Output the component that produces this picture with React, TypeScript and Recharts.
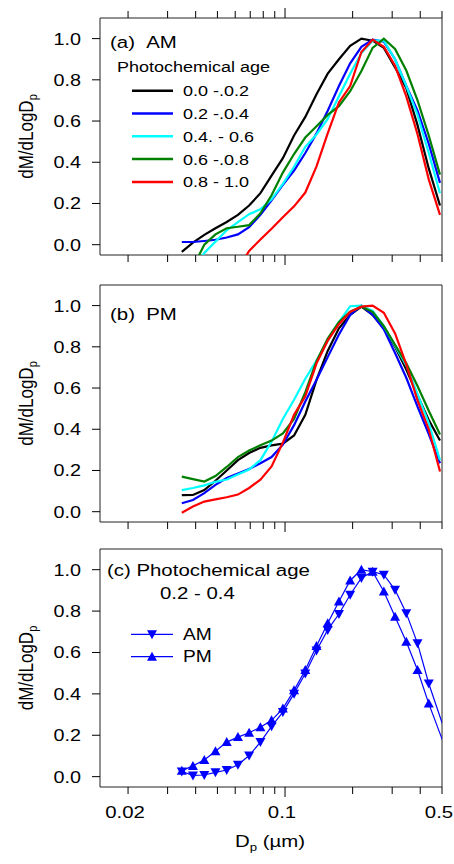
import { Legend, Line, LineChart, ReferenceArea, XAxis, YAxis } from "recharts";

// particle diameter bins (µm)
const DP = [
  0.0347, 0.0389, 0.0437, 0.049, 0.055, 0.0617, 0.0692, 0.0777, 0.0871, 0.0978, 0.1097, 0.1231,
  0.1381, 0.1549, 0.1738, 0.195, 0.2188, 0.2455, 0.2754, 0.309, 0.3467, 0.389, 0.4365, 0.4898,
];
const DP_C = [
  0.0347, 0.0389, 0.0437, 0.049, 0.055, 0.0617, 0.0692, 0.0777, 0.0871, 0.0978, 0.1097, 0.1231,
  0.1381, 0.1549, 0.1738, 0.195, 0.2188, 0.2455, 0.2754, 0.309, 0.3467, 0.389, 0.4365, 0.55,
];

// (a) AM
const AM_00_02 = [-0.035, 0.01, 0.048, 0.08, 0.11, 0.145, 0.19, 0.25, 0.335, 0.42, 0.53, 0.62, 0.73, 0.83, 0.9, 0.965, 1.0, 0.99, 0.955, 0.86, 0.76, 0.58, 0.37, 0.19];
const AM_02_04 = [0.013, 0.013, 0.018, 0.024, 0.035, 0.05, 0.085, 0.145, 0.215, 0.29, 0.36, 0.445, 0.54, 0.65, 0.77, 0.88, 0.96, 0.995, 0.985, 0.9, 0.77, 0.65, 0.49, 0.3];
const AM_04_06 = [-0.2, -0.12, -0.04, 0.015, 0.07, 0.11, 0.148, 0.172, 0.22, 0.295, 0.378, 0.475, 0.535, 0.61, 0.72, 0.83, 0.93, 0.99, 0.99, 0.9, 0.77, 0.63, 0.445, 0.25];
const AM_06_08 = [-0.25, -0.11, 0.0, 0.05, 0.08, 0.087, 0.095, 0.152, 0.24, 0.35, 0.44, 0.52, 0.575, 0.63, 0.672, 0.745, 0.843, 0.955, 1.0, 0.95, 0.845, 0.7, 0.53, 0.34];
const AM_08_10 = [-0.4, -0.35, -0.3, -0.25, -0.19, -0.12, -0.03, 0.025, 0.077, 0.133, 0.186, 0.253, 0.38, 0.54, 0.69, 0.77, 0.935, 0.995, 0.96, 0.868, 0.72, 0.536, 0.317, 0.145];

// (b) PM
const PM_00_02 = [0.08, 0.081, 0.105, 0.15, 0.2, 0.25, 0.285, 0.31, 0.322, 0.33, 0.37, 0.47, 0.64, 0.78, 0.89, 0.955, 0.995, 0.955, 0.89, 0.8, 0.69, 0.565, 0.445, 0.345];
const PM_02_04 = [0.041, 0.057, 0.09, 0.13, 0.163, 0.185, 0.207, 0.235, 0.265, 0.325, 0.42, 0.535, 0.64, 0.75, 0.86, 0.955, 1.0, 0.955, 0.885, 0.77, 0.65, 0.51, 0.377, 0.235];
const PM_04_06 = [0.105, 0.115, 0.128, 0.145, 0.156, 0.18, 0.205, 0.25, 0.34, 0.45, 0.543, 0.645, 0.733, 0.83, 0.92, 0.997, 1.0, 0.975, 0.9, 0.805, 0.71, 0.57, 0.43, 0.25];
const PM_06_08 = [0.17, 0.158, 0.146, 0.173, 0.217, 0.265, 0.297, 0.322, 0.345, 0.38, 0.45, 0.58, 0.73, 0.84, 0.92, 0.97, 0.995, 0.97, 0.9, 0.81, 0.72, 0.61, 0.49, 0.375];
const PM_08_10 = [-0.005, 0.025, 0.049, 0.06, 0.07, 0.083, 0.115, 0.155, 0.22, 0.335, 0.47, 0.56, 0.72, 0.83, 0.91, 0.97, 0.995, 1.0, 0.965, 0.865, 0.715, 0.54, 0.4, 0.195];

// (c) photochemical age 0.2 - 0.4
const C_AM = [0.025, 0.006, 0.008, 0.021, 0.032, 0.057, 0.102, 0.167, 0.243, 0.312, 0.401, 0.498, 0.61, 0.709, 0.786, 0.879, 0.96, 0.99, 0.976, 0.903, 0.79, 0.644, 0.45, 0.128];
const C_PM = [0.029, 0.052, 0.081, 0.123, 0.167, 0.191, 0.212, 0.239, 0.272, 0.329, 0.417, 0.515, 0.631, 0.741, 0.846, 0.948, 1.0, 0.99, 0.895, 0.773, 0.652, 0.515, 0.353, 0.063];

const AGE_LABELS = ["0.0 -.0.2", "0.2 -.0.4", "0.4. - 0.6", "0.6 -.0.8", "0.8 - 1.0"];
const AGE_COLORS = ["#000000", "#0000ff", "#00ffff", "#008000", "#ff0000"];
const AM_SERIES = [AM_00_02, AM_02_04, AM_04_06, AM_06_08, AM_08_10];
const PM_SERIES = [PM_00_02, PM_02_04, PM_04_06, PM_06_08, PM_08_10];

const X_TICKS = [0.02, 0.03, 0.04, 0.05, 0.06, 0.07, 0.08, 0.09, 0.1, 0.2, 0.3, 0.4, 0.5];
const X_LABELS = [0.02, 0.1, 0.5];
const Y_TICKS = [0, 0.2, 0.4, 0.6, 0.8, 1.0];
const X_DOMAIN = [0.015, 0.5];
const Y_DOMAIN = [-0.05, 1.1];

const W = 454;
const SX = 1.2;
const FONT = "'Liberation Sans', Arial, Helvetica, sans-serif";
const BLUE = "#0000ff";

const rowsAM = DP.map((x, i) => ({ x, s0: AM_00_02[i], s1: AM_02_04[i], s2: AM_04_06[i], s3: AM_06_08[i], s4: AM_08_10[i] }));
const rowsPM = DP.map((x, i) => ({ x, s0: PM_00_02[i], s1: PM_02_04[i], s2: PM_04_06[i], s3: PM_06_08[i], s4: PM_08_10[i] }));
const rowsC = DP_C.map((x, i) => ({ x, am: C_AM[i], pm: C_PM[i] }));

const bottomTick = (labeled: boolean) => (p: any) => {
  const v = p.payload.value;
  const len = v === 0.1 ? 10 : 7;
  return (
    <g>
      <line x1={p.x} x2={p.x} y1={p.y} y2={p.y + len} stroke="#000" />
      {labeled && X_LABELS.includes(v) && (
        <text transform={`translate(${p.x - 3},${p.y + 31}) scale(${SX},1)`} textAnchor="middle" fontSize={17} fill="#000">
          {String(v)}
        </text>
      )}
    </g>
  );
};

const topTick = (p: any) => {
  const len = p.payload.value === 0.1 ? 10 : 7;
  return <line x1={p.x} x2={p.x} y1={p.y} y2={p.y - len} stroke="#000" />;
};

const yTick = (p: any) => (
  <g>
    <line x1={p.x - 8} x2={p.x} y1={p.y} y2={p.y} stroke="#000" />
    <text transform={`translate(${p.x - 19},${p.y}) scale(${SX},1)`} textAnchor="end" dy="0.36em" fontSize={16.5} fill="#000">
      {Number(p.payload.value).toFixed(1)}
    </text>
  </g>
);

const tri = (down: boolean) => (p: any) => {
  const { cx, cy, index } = p;
  if (cx == null || cy == null) return <g key={index} />;
  const d = down
    ? `M${cx - 5},${cy - 4}L${cx + 5},${cy - 4}L${cx},${cy + 5}Z`
    : `M${cx - 5},${cy + 4}L${cx + 5},${cy + 4}L${cx},${cy - 5}Z`;
  return <path key={index} d={d} fill={BLUE} />;
};

const YLabel = ({ cy }: { cy: number }) => (
  <text transform={`translate(33,${cy}) scale(${SX},1) rotate(-90)`} textAnchor="middle" fontSize={17} fill="#000">
    dM/dLogD
    <tspan fontSize={11} dy={3}>p</tspan>
  </text>
);

const T = ({ x, y, size, children }: any) => (
  <text transform={`translate(${x},${y}) scale(${SX},1)`} fontSize={size} fill="#000">
    {children}
  </text>
);

const overlayA = () => (
  <svg width={W} height={270} style={{ display: "block", overflow: "visible" }}>
    <YLabel cy={136.5} />
    <T x={110} y={48} size={17}>{"(a)\u00a0\u00a0AM"}</T>
    <T x={117} y={72} size={15}>Photochemical age</T>
    {AGE_LABELS.map((lab, i) => {
      const y = 90.7 + i * 22.8;
      return (
        <g key={lab}>
          <line x1={132} x2={173} y1={y} y2={y} stroke={AGE_COLORS[i]} strokeWidth={2.5} />
          <text transform={`translate(183,${y}) scale(${SX},1)`} dy="0.36em" fontSize={15} fill="#000">
            {lab}
          </text>
        </g>
      );
    })}
  </svg>
);

const overlayB = () => (
  <svg width={W} height={270} style={{ display: "block", overflow: "visible" }}>
    <YLabel cy={133.5} />
    <T x={110} y={50} size={17}>{"(b)\u00a0\u00a0PM"}</T>
  </svg>
);

const overlayC = () => (
  <svg width={W} height={324} style={{ display: "block", overflow: "visible" }}>
    <YLabel cy={128} />
    <T x={107} y={36} size={17}>(c) Photochemical age</T>
    <T x={160} y={59} size={17}>0.2 - 0.4</T>
    {["AM", "PM"].map((lab, i) => {
      const y = 94.3 + i * 22.4;
      const d = i === 0 ? `M147,${y - 4}L157,${y - 4}L152,${y + 5}Z` : `M147,${y + 4}L157,${y + 4}L152,${y - 5}Z`;
      return (
        <g key={lab}>
          <line x1={131} x2={173} y1={y} y2={y} stroke={BLUE} strokeWidth={1.2} />
          <path d={d} fill={BLUE} />
          <text transform={`translate(183,${y}) scale(${SX},1)`} dy="0.36em" fontSize={16} fill="#000">
            {lab}
          </text>
        </g>
      );
    })}
    <text transform={`translate(270,307) scale(${SX},1)`} textAnchor="middle" fontSize={17} fill="#000">
      D
      <tspan fontSize={11} dy={4}>p</tspan>
      <tspan dy={-4}> (µm)</tspan>
    </text>
  </svg>
);

const xAxisProps = {
  type: "number" as const,
  scale: "log" as const,
  domain: X_DOMAIN,
  allowDataOverflow: true,
  ticks: X_TICKS,
  interval: 0 as const,
  tickLine: false,
  axisLine: false,
  tickSize: 0,
  tickMargin: 0,
};

const yAxis = (
  <YAxis
    type="number"
    domain={Y_DOMAIN}
    allowDataOverflow
    ticks={Y_TICKS}
    interval={0}
    width={100}
    tickLine={false}
    axisLine={false}
    tickSize={0}
    tickMargin={0}
    tick={yTick}
  />
);

const box = <ReferenceArea x1={X_DOMAIN[0]} x2={X_DOMAIN[1]} y1={Y_DOMAIN[0]} y2={Y_DOMAIN[1]} fill="none" stroke="#222" strokeWidth={1} />;

const overlay = (content: any, h: number) => (
  <Legend
    layout="horizontal"
    verticalAlign="middle"
    align="center"
    content={content}
    wrapperStyle={{ left: 0, top: 0, width: W, height: h, pointerEvents: "none" }}
  />
);

export default function App() {
  return (
    <div style={{ position: "absolute", left: 0, top: 0, width: W, height: 864, fontFamily: FONT, background: "#fff" }}>
      <div style={{ position: "absolute", left: 0, top: 0 }}>
        <LineChart width={W} height={270} data={rowsAM} margin={{ top: 8, right: 12, bottom: 0, left: 0 }}>
          <XAxis dataKey="x" {...xAxisProps} height={15} tick={bottomTick(false)} />
          <XAxis xAxisId="top" orientation="top" dataKey="x" {...xAxisProps} height={10} tick={topTick} />
          {yAxis}
          {box}
          {AM_SERIES.map((_, i) => (
            <Line key={i} dataKey={`s${i}`} type="linear" stroke={AGE_COLORS[i]} strokeWidth={2.2} dot={false} isAnimationActive={false} />
          ))}
          {overlay(overlayA, 270)}
        </LineChart>
      </div>
      <div style={{ position: "absolute", left: 0, top: 270 }}>
        <LineChart width={W} height={270} data={rowsPM} margin={{ top: 15, right: 12, bottom: 0, left: 0 }}>
          <XAxis dataKey="x" {...xAxisProps} height={18} tick={bottomTick(false)} />
          {yAxis}
          {box}
          {PM_SERIES.map((_, i) => (
            <Line key={i} dataKey={`s${i}`} type="linear" stroke={AGE_COLORS[i]} strokeWidth={2.2} dot={false} isAnimationActive={false} />
          ))}
          {overlay(overlayB, 270)}
        </LineChart>
      </div>
      <div style={{ position: "absolute", left: 0, top: 540 }}>
        <LineChart width={W} height={324} data={rowsC} margin={{ top: 9, right: 12, bottom: 0, left: 0 }}>
          <XAxis dataKey="x" {...xAxisProps} height={77} tick={bottomTick(true)} />
          {yAxis}
          {box}
          <Line dataKey="am" type="linear" stroke={BLUE} strokeWidth={1.2} dot={tri(true)} isAnimationActive={false} />
          <Line dataKey="pm" type="linear" stroke={BLUE} strokeWidth={1.2} dot={tri(false)} isAnimationActive={false} />
          {overlay(overlayC, 324)}
        </LineChart>
      </div>
    </div>
  );
}
